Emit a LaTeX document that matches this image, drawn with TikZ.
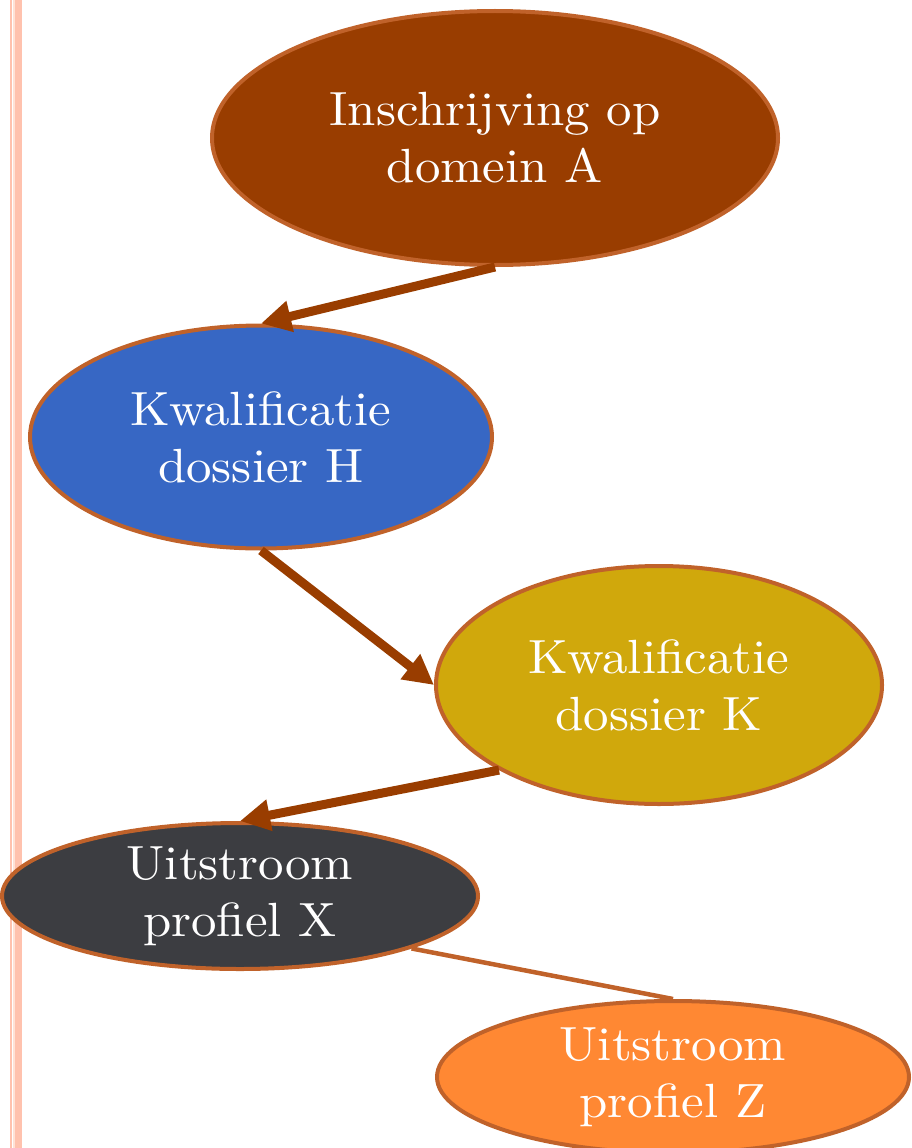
\documentclass[tikz,border=0pt]{standalone}
\usepackage{fontspec}
\setmainfont{lmroman10-regular.otf}[FakeStretch=1.06]
\usetikzlibrary{shapes.geometric,arrows.meta}
\definecolor{stripe}{HTML}{FFC2AE}
\definecolor{stripepale}{HTML}{FFE2D6}
\definecolor{rim}{HTML}{C0622A}
\definecolor{cBrown}{HTML}{993D00}
\definecolor{cBlue}{HTML}{3767C4}
\definecolor{cGold}{HTML}{D0A80C}
\definecolor{cDark}{HTML}{3C3D41}
\definecolor{cOrange}{HTML}{FF8833}
\definecolor{arrowc}{HTML}{993D00}
\tikzset{
  blob/.style={ellipse, draw=rim, line width=4pt, inner sep=0pt, align=center,
    text=white, font=\fontsize{48}{57}\selectfont},
  bigarrow/.style={draw=arrowc, line width=9pt, -{Triangle[length=30pt,width=30pt]}},
  thinlink/.style={draw=rim, line width=4.5pt}
}
\begin{document}
\begin{tikzpicture}[x=1pt,y=-1pt]
\useasboundingbox (0,0) rectangle (912,1148);
% left border stripes
\fill[stripe] (10,0) rectangle (12,1148);
\fill[stripepale] (13,0) rectangle (15,1148);
\fill[stripe] (15,0) rectangle (22,1148);
% nodes
\node[blob, fill=cBrown, minimum width=566pt, minimum height=254pt] (a) at (495,138) {Inschrijving op\\domein A};
\node[blob, fill=cBlue, minimum width=462pt, minimum height=223pt] (h) at (261,437) {Kwalificatie\\dossier H};
\node[blob, fill=cGold, minimum width=446pt, minimum height=238pt] (k) at (659,685) {Kwalificatie\\dossier K};
\node[blob, fill=cDark, minimum width=476pt, minimum height=146pt] (x) at (240,896) {Uitstroom\\profiel X};
\node[blob, fill=cOrange, minimum width=472pt, minimum height=152pt] (z) at (673,1077) {Uitstroom\\profiel Z};
% connectors
\draw[bigarrow] (a.south) -- (h.north);
\draw[bigarrow] (h.south) -- (k.west);
\draw[bigarrow] (k.-152) -- (x.north);
\draw[thinlink] (x.-17) -- (z.north);
\end{tikzpicture}
\end{document}
